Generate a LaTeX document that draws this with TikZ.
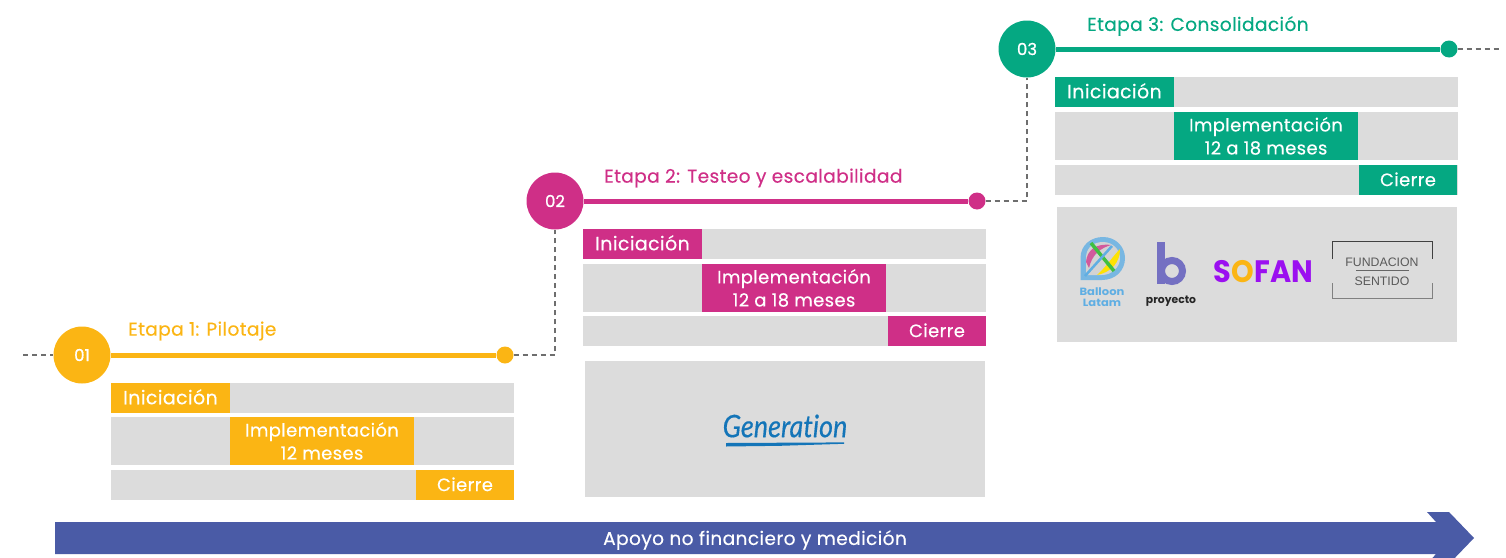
\documentclass[tikz,border=0pt]{standalone}
\usepackage{fontspec}
\setmainfont{Poppins}[LetterSpace=2.0,FakeBold=0.3]
\newfontfamily\arialf{Liberation Sans}
\newfontfamily\logof{Poppins}
\newfontfamily\numf{Poppins}[FakeBold=0.8]
\newfontfamily\genf{Lato}[FakeBold=0.4,Ligatures=NoCommon]
\definecolor{cOne}{HTML}{FBB514}
\definecolor{cTwo}{HTML}{CF2F87}
\definecolor{cThree}{HTML}{05A882}
\definecolor{cBlue}{HTML}{4A5BA6}
\definecolor{cGray}{HTML}{DCDCDC}
\definecolor{cDash}{HTML}{6E6E6E}
\definecolor{cGen}{HTML}{1475B8}
\definecolor{cBalloon}{HTML}{5FAEE3}
\definecolor{cSofan}{HTML}{9B10F0}
\definecolor{cB}{HTML}{7470C2}
\tikzset{
  box/.style={draw=none,inner sep=0pt,outer sep=0pt,anchor=north west},
  grayrow/.style={box,fill=cGray},
  barlabel/.style={box,text=white,align=center,font=\fontsize{18}{22.5}\selectfont},
  startlabel/.style={barlabel,font=\fontsize{19}{22.5}\selectfont},
  stagedot/.style={circle,inner sep=0pt,minimum size=17pt},
  stagecirc/.style={circle,inner sep=0pt,minimum size=57pt,text=white,font=\numf\fontsize{16.5}{18}\selectfont},
  stagetitle/.style={inner sep=0pt,anchor=west,font=\fontsize{18.6}{20}\selectfont},
  stageline/.style={line width=5pt},
  linkdash/.style={cDash,line width=1.25pt,dash pattern=on 5pt off 4pt},
}
\newcommand{\rowbox}[7]{% name, style opts, x0, y0, x1, y1, text
  \node[#2,minimum width={(#5-#3)*1pt},minimum height={(#6-#4)*1pt}] (#1) at (#3,#4) {#7};}
\begin{document}
\begin{tikzpicture}[x=1pt,y=-1pt]
\useasboundingbox (0,0) rectangle (1506,557);
% ---- bottom arrow (runs off the lower edge)
\begin{scope}
\clip (0,0) rectangle (1506,557);
\fill[cBlue] (55,522) -- (1436,522) -- (1427,512) -- (1449,512) -- (1474,538) -- (1449,564) -- (1427,564) -- (1436,554) -- (55,554) -- cycle;
\end{scope}
\node[inner sep=0pt,text=white,font=\fontsize{18.6}{20}\selectfont] (apoyo) at (755,540) {Apoyo no financiero y medición};
% ---- stage nodes
\node[stagecirc,fill=cOne] (c1) at (82,355) {\raisebox{-2pt}{01}};
\node[stagecirc,fill=cTwo] (c2) at (555,201) {\raisebox{-2pt}{02}};
\node[stagecirc,fill=cThree] (c3) at (1027,49) {\raisebox{-2pt}{03}};
\node[stagedot,fill=cOne] (d1) at (505,355) {};
\node[stagedot,fill=cTwo] (d2) at (977,201) {};
\node[stagedot,fill=cThree] (d3) at (1449,49) {};
\coordinate (startfree) at (23,355);
\coordinate (endfree) at (1500,49);
\draw[stageline,cOne] (c1) -- (d1);
\draw[stageline,cTwo] (c2) -- (d2);
\draw[stageline,cThree] (c3) -- (d3);
\draw[linkdash] (startfree) -- (c1);
\draw[linkdash] (d1) -| (c2);
\draw[linkdash] (d2) -| (c3);
\draw[linkdash] (d3) -- (endfree);
\node[stagetitle,text=cOne] (t1) at (128,331) {Etapa 1: Pilotaje};
\node[stagetitle,text=cTwo] (t2) at (604,178) {Etapa 2: Testeo y escalabilidad};
\node[stagetitle,text=cThree] (t3) at (1087,26) {Etapa 3: Consolidación};
% ---- stage 1 rows
\rowbox{g11}{grayrow}{111}{383}{514}{413}{}
\rowbox{g12}{grayrow}{111}{417}{514}{465}{}
\rowbox{g13}{grayrow}{111}{470}{514}{500}{}
\rowbox{b11}{startlabel,fill=cOne}{111}{383}{230}{413}{\raisebox{2.5pt}{Iniciación}}
\rowbox{b12}{barlabel,fill=cOne}{230}{417}{414}{465}{\raisebox{.5pt}{Implementación}\\12 meses}
\rowbox{b13}{barlabel,fill=cOne}{416}{470}{514}{500}{\raisebox{1.5pt}{Cierre}}
% ---- stage 2 rows
\rowbox{g21}{grayrow}{583}{229}{986}{259}{}
\rowbox{g22}{grayrow}{583}{264}{986}{312}{}
\rowbox{g23}{grayrow}{583}{316}{986}{346}{}
\rowbox{b21}{startlabel,fill=cTwo}{583}{229}{702}{259}{\raisebox{2.5pt}{Iniciación}}
\rowbox{b22}{barlabel,fill=cTwo}{702}{264}{886}{312}{\raisebox{.5pt}{Implementación}\\12 a 18 meses}
\rowbox{b23}{barlabel,fill=cTwo}{888}{316}{986}{346}{\raisebox{1.5pt}{Cierre}}
\rowbox{logo2}{grayrow}{585}{361}{985}{497}{}
% ---- stage 3 rows
\rowbox{g31}{grayrow}{1055}{77}{1458}{107}{}
\rowbox{g32}{grayrow}{1055}{112}{1458}{160}{}
\rowbox{g33}{grayrow}{1055}{165}{1458}{195}{}
\rowbox{b31}{startlabel,fill=cThree}{1055}{77}{1174}{107}{\raisebox{2.5pt}{Iniciación}}
\rowbox{b32}{barlabel,fill=cThree}{1174}{112}{1358}{160}{\raisebox{.5pt}{Implementación}\\12 a 18 meses}
\rowbox{b33}{barlabel,fill=cThree}{1359}{165}{1457}{195}{\raisebox{1.5pt}{Cierre}}
\rowbox{logo3}{grayrow}{1057}{207}{1457}{342}{}
% ---- Generation logo
\node[inner sep=0pt,text=cGen,font=\genf\itshape\fontsize{31}{34}\selectfont,xscale=0.87] (gen) at (785,426) {Generation};
\fill[cGen] (726,443) -- (844,442.4) -- (844,443.8) -- (780,445.8) -- (726,446.5) -- cycle;
% ---- Balloon Latam logo
\fill[cBalloon!80!cGray] (1080.5,280) -- (1080.5,258) .. controls (1080.5,245) and (1091,237) .. (1103,237) .. controls (1116,237) and (1125,247) .. (1125,258) .. controls (1125,271) and (1115,280) .. (1102,280) -- cycle;
\fill[black!4!cGray] (1086,275) -- (1086,258) .. controls (1086,248) and (1093,242) .. (1103,242) .. controls (1113,242) and (1120,250) .. (1120,258) .. controls (1120,267) and (1112,275) .. (1102,275) -- cycle;
\fill[cTwo!75!cGray] (1086,262) .. controls (1087,250) and (1096,243) .. (1111,245) .. controls (1101,248) and (1092,254) .. (1089,268) -- cycle;
\fill[yellow!85!orange] (1120,249) .. controls (1120,262) and (1112,272) .. (1097,275) .. controls (1107,266) and (1113,256) .. (1120,249) -- cycle;
\draw[green!50!gray,line width=3.5pt] (1091,243) -- (1114,271);
\draw[cBalloon,line width=2.5pt] (1085,276) -- (1112,246);
\node[inner sep=0pt,text=cBalloon,align=center,font=\logof\bfseries\fontsize{10.5}{11}\selectfont,xscale=1.1] (balloon) at (1102,297.5) {Balloon\\Latam};
% ---- b proyecto logo
\draw[cB,line width=8pt] (1160.5,242) -- (1160.5,284);
\draw[cB,line width=7pt] (1172,271) circle[radius=10.5];
\node[inner sep=0pt,text=black!85,font=\logof\bfseries\fontsize{10.8}{12}\selectfont] (proy) at (1171,301.5) {proyecto};
% ---- SOFAN logo
\node[inner sep=0pt,text=cSofan,font=\logof\bfseries\fontsize{31}{34}\selectfont,xscale=0.93] (sofan) at (1263.5,272) {S\textcolor{cOne}{O}FAN};
% ---- Fundacion Sentido logo
\draw[black!75,line width=.8pt] (1332,259) -- (1332,241.5) -- (1432.5,241.5) -- (1432.5,259);
\draw[black!50,line width=.8pt] (1332,283) -- (1332,298.5) -- (1432.5,298.5) -- (1432.5,283);
\node[inner sep=0pt,text=black!65,font=\arialf\fontsize{12.3}{13}\selectfont] (fund) at (1382,262.5) {FUNDACION};
\node[inner sep=0pt,text=black!65,font=\arialf\fontsize{12.3}{13}\selectfont] (sent) at (1382,281.5) {SENTIDO};
\draw[black!60,line width=.8pt] (1356,270.5) -- (1409,270.5);
\end{tikzpicture}
\end{document}
